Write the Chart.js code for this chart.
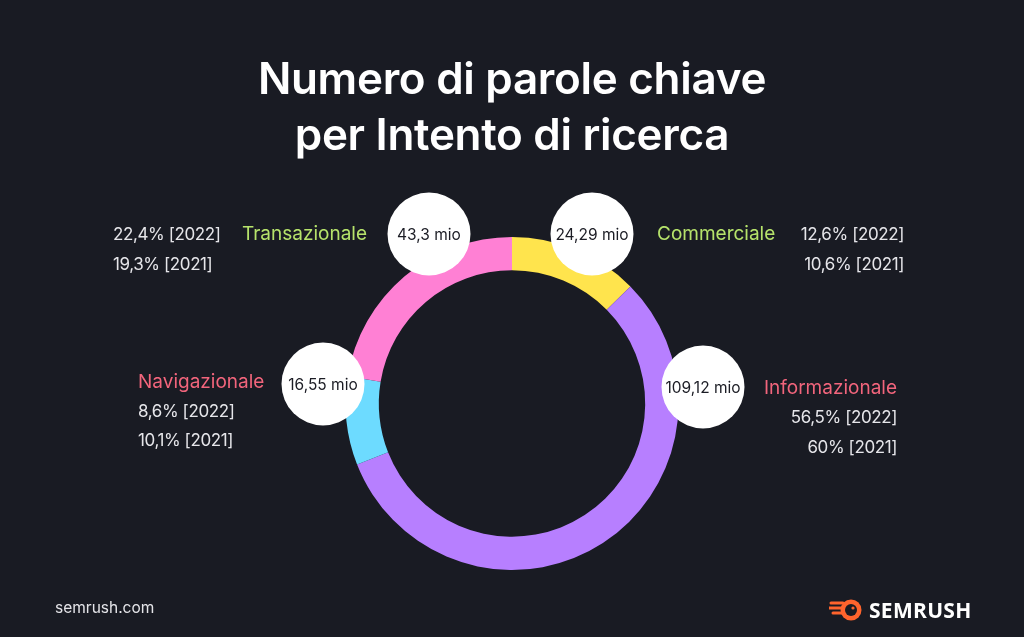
<!DOCTYPE html>
<html>
<head>
<meta charset="utf-8">
<script src="https://cdn.jsdelivr.net/npm/chart.js@4.4.1/dist/chart.umd.min.js"></script>
<style>
  html, body { margin:0; padding:0; background:#191b23; }
  body { width:1024px; height:637px; position:relative; overflow:hidden; font-family:Inter, "Noto Sans", sans-serif; }
  #wrap { position:absolute; left:0; top:0; width:1024px; height:637px; }
  .title { position:absolute; left:0; width:1024px; text-align:center; color:#fff; font-weight:600; font-size:44px; line-height:56px; top:50px; letter-spacing:-0.3px; }
  .t { position:absolute; font-size:17px; line-height:22px; letter-spacing:-0.4px; color:#e6e6ea; white-space:nowrap; transform:translateY(-50%); }
  .n { font-size:19px; letter-spacing:0; }
  .r { transform:translate(-100%,-50%); }
  .bubble { position:absolute; width:83px; height:83px; border-radius:50%; background:#fff; color:#1b1c24; font-size:15.5px; display:flex; align-items:center; justify-content:center; transform:translate(-50%,-50%); white-space:nowrap; }
  .foot { position:absolute; left:55px; top:598px; color:#e4e4e8; font-size:15.5px; }
  .logo { position:absolute; left:829px; top:596px; display:flex; align-items:center; }
  .logo span { color:#fff; font-weight:700; font-size:21px; letter-spacing:0.3px; margin-left:6px; font-family:"Open Sans", Inter, sans-serif; }
</style>
</head>
<body>
<div id="wrap"><canvas id="c" width="1024" height="637"></canvas></div>
<div class="title">Numero di parole chiave<br>per Intento di ricerca</div>
<div id="labels"></div>
<div class="foot">semrush.com</div>
<div class="logo">
  <svg width="34" height="24" viewBox="0 0 34 24">
    <path d="M2 5 L14 5 M0 10 L12 10 M4 15 L13 15" stroke="#ff642d" stroke-width="3" stroke-linecap="round"/>
    <circle cx="22" cy="12" r="10.5" fill="#ff642d"/>
    <circle cx="22" cy="12" r="6" fill="#191b23"/>
    <circle cx="24" cy="10" r="1.6" fill="#ff642d"/>
  </svg>
  <span>SEMRUSH</span>
</div>
<script>
// ---- data ----
const categories = ["Commerciale", "Informazionale", "Navigazionale", "Transazionale"];
const share2022 = [12.6, 56.5, 8.6, 22.4];
const share2021 = [10.6, 60, 10.1, 19.3];
const keywordsMio = [24.29, 109.12, 16.55, 43.3];
const sliceColors = ["#ffe44d", "#b77fff", "#6ddbff", "#ff80d4"];
const nameColors = ["#b6e36b", "#f2657c", "#f2657c", "#b6e36b"];

const fmt = (v) => String(v).replace('.', ',');

new Chart(document.getElementById('c'), {
  type: 'doughnut',
  data: {
    labels: categories,
    datasets: [{
      data: share2022,
      backgroundColor: sliceColors,
      borderWidth: 0,
      hoverOffset: 0
    }]
  },
  options: {
    responsive: false,
    animation: false,
    cutout: '80%',
    rotation: 0,
    layout: { padding: { left: 345.5, right: 345.5, top: 237, bottom: 67 } },
    plugins: { legend: { display: false }, tooltip: { enabled: false } },
    events: []
  }
});

// ---- text annotations (layout only) ----
const layout = [
  { bubble:[592,234], name:[657,234,'l'], lines:[[904,234,'r'],[904,264,'r']] },
  { bubble:[703,387], name:[897,388,'r'], lines:[[897,417,'r'],[897,447,'r']] },
  { bubble:[323,384], name:[138,382,'l'], lines:[[138,411,'l'],[138,440,'l']] },
  { bubble:[429,234], name:[367,234,'r'], lines:[[113,234,'l'],[113,264,'l']] }
];
const host = document.getElementById('labels');
function addText(txt, pos, color, cls) {
  const d = document.createElement('div');
  d.className = 't' + (pos[2] === 'r' ? ' r' : '') + (cls ? ' ' + cls : '');
  d.style.left = pos[0] + 'px';
  d.style.top = pos[1] + 'px';
  if (color) d.style.color = color;
  d.textContent = txt;
  host.appendChild(d);
}
categories.forEach((cat, i) => {
  const L = layout[i];
  const b = document.createElement('div');
  b.className = 'bubble';
  b.style.left = L.bubble[0] + 'px';
  b.style.top = L.bubble[1] + 'px';
  b.textContent = fmt(keywordsMio[i]) + ' mio';
  host.appendChild(b);
  addText(cat, L.name, nameColors[i], 'n');
  addText(fmt(share2022[i]) + '% [2022]', L.lines[0]);
  addText(fmt(share2021[i]) + '% [2021]', L.lines[1]);
});
</script>
</body>
</html>
